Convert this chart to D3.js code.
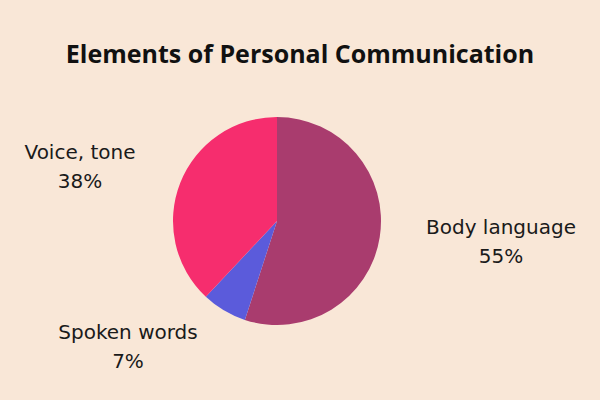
<!DOCTYPE html>
<html>
  <head>
    <script src="https://d3js.org/d3.v7.min.js"></script>
    <style>
      body { margin: 0; background: #f9e7d7; }
    </style>
  </head>
  <body>
    <svg width="600" height="400"></svg>
    <script>
      var labels = ["Body language", "Spoken words", "Voice, tone"];
      var values = [55, 7, 38];
      var colors = ["#a93c6e", "#5b5bdb", "#f62d6e"];
      var labelPos = [[501, 228], [128, 333], [80, 153]];

      var svg = d3.select("svg");
      svg.append("rect").attr("width", 600).attr("height", 400).attr("fill", "#f9e7d7");

      svg.append("text")
        .attr("x", 300)
        .attr("y", 63)
        .attr("text-anchor", "middle")
        .style("font-family", "Open Sans")
        .style("font-weight", "700")
        .style("font-size", "25px")
        .attr("fill", "#111")
        .text("Elements of Personal Communication");

      var data = labels.map(function (l, i) {
        return { label: l, value: values[i] };
      });

      var pie = d3.pie().sort(null).value(function (d) { return d.value; });
      var arc = d3.arc().innerRadius(0).outerRadius(104);

      var g = svg.append("g").attr("transform", "translate(277,221)");
      g.selectAll("path")
        .data(pie(data))
        .enter()
        .append("path")
        .attr("d", arc)
        .attr("fill", function (d, i) { return colors[i]; });

      var lab = svg.append("g").selectAll("text")
        .data(data)
        .enter()
        .append("text")
        .attr("text-anchor", "middle")
        .style("font-family", "DejaVu Sans")
        .style("font-size", "20px")
        .attr("fill", "#1a1a1a")
        .attr("transform", function (d, i) {
          return "translate(" + labelPos[i][0] + "," + labelPos[i][1] + ")";
        });
      lab.append("tspan").attr("x", 0).attr("y", 6).text(function (d) { return d.label; });
      lab.append("tspan").attr("x", 0).attr("y", 35).text(function (d) { return d.value + "%"; });
    </script>
  </body>
</html>
